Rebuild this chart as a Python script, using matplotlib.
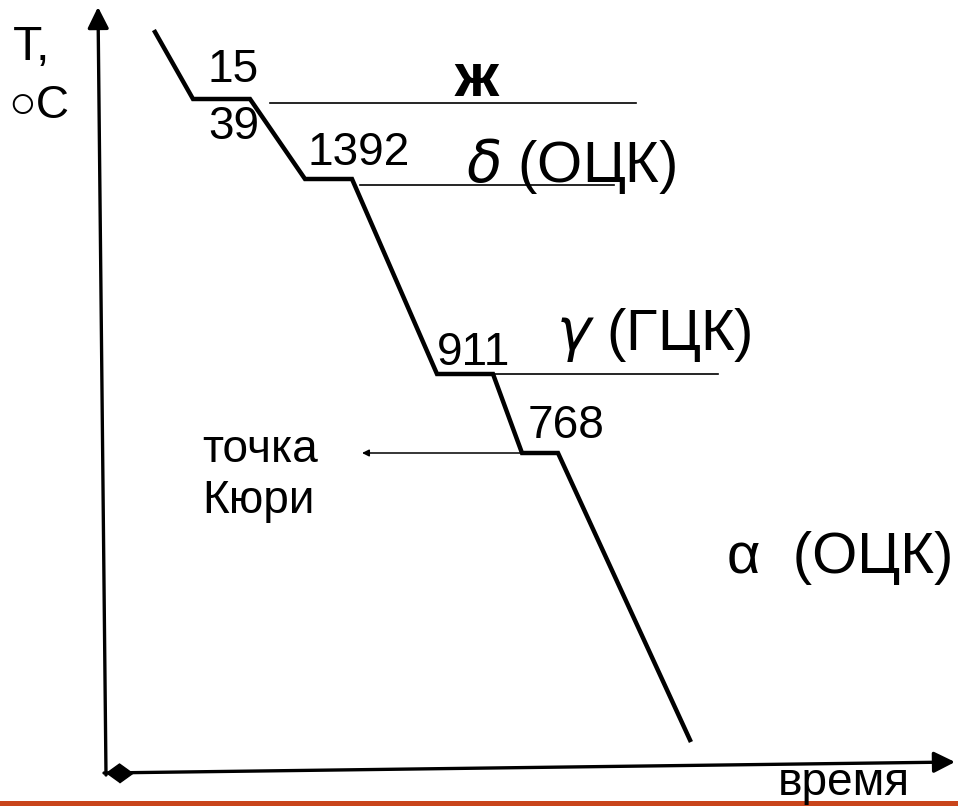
import matplotlib.pyplot as plt

# Cooling curve of iron (schematic, pixel-like coordinates of the slide)
curve_x = [155, 193, 250, 305, 352, 437, 493, 522, 558, 690]
curve_y = [32, 99, 99, 179, 179, 374, 374, 453, 453, 740]

# thin phase boundary lines: (x0, x1, y)
phase_lines = [(270, 636, 103), (360, 614, 185), (493, 718, 374)]

temp_labels = ["15", "39", "1392", "911", "768"]
temp_pos = [(208, 82), (208, 139), (308, 165), (437, 365), (528, 438)]

phase_labels = ["$\\mathit{\\delta}$ (ОЦК)", "$\\mathit{\\gamma}$ (ГЦК)", "α  (ОЦК)"]
phase_pos = [(466, 182), (556, 350), (727, 573)]

PX = 0.72  # pixel -> point at dpi 100
FONT = ["Liberation Sans", "DejaVu Sans"]

fig = plt.figure(figsize=(9.58, 8.06), dpi=100)
ax = fig.add_axes([0, 0, 1, 1])
ax.set_xlim(0, 958)
ax.set_ylim(806, 0)
ax.axis("off")

# axes with arrows
ax.annotate("", xy=(98, 7), xytext=(106, 775),
            arrowprops=dict(arrowstyle="-|>", lw=2.4, color="k", mutation_scale=32,
                            shrinkA=0, shrinkB=0))
ax.annotate("", xy=(955, 762), xytext=(104, 773),
            arrowprops=dict(arrowstyle="-|>", lw=2.4, color="k", mutation_scale=32,
                            shrinkA=0, shrinkB=0))
ax.plot([119], [773], marker=[(-1, 0), (0, 0.72), (1, 0), (0, -0.72)],
        markersize=19, color="k")

# cooling curve
ax.plot(curve_x, curve_y, color="k", lw=3.2, solid_joinstyle="miter")

for x0, x1, y in phase_lines:
    ax.plot([x0, x1], [y, y], color="k", lw=1.2)

# Curie point arrow
ax.annotate("", xy=(362, 453), xytext=(522, 453),
            arrowprops=dict(arrowstyle="-|>", lw=1.1, color="k", mutation_scale=10,
                            shrinkA=0, shrinkB=0))

for s, (x, y) in zip(temp_labels, temp_pos):
    ax.text(x, y, s, fontsize=46 * PX, family=FONT, va="baseline", ha="left")

for s, (x, y) in zip(phase_labels, phase_pos):
    ax.text(x, y, s, fontsize=58 * PX, family=FONT, va="baseline", ha="left")

ax.text(455, 96, "ж", fontsize=62 * PX, family=FONT, va="baseline", fontweight="bold")
ax.text(13, 60, "T,", fontsize=48 * PX, family=FONT, va="baseline")
ax.text(8, 118, "○C", fontsize=46 * PX, family=FONT, va="baseline")
ax.text(202, 462, "точка", fontsize=46 * PX, family=FONT, va="baseline")
ax.text(202, 513, "Кюри", fontsize=46 * PX, family=FONT, va="baseline")
ax.text(778, 795, "время", fontsize=46 * PX, family=FONT, va="baseline")

# orange strip at the bottom of the slide
ax.axhspan(801, 806, color="#C9451B", lw=0)

fig.savefig("out.png", dpi=100)
